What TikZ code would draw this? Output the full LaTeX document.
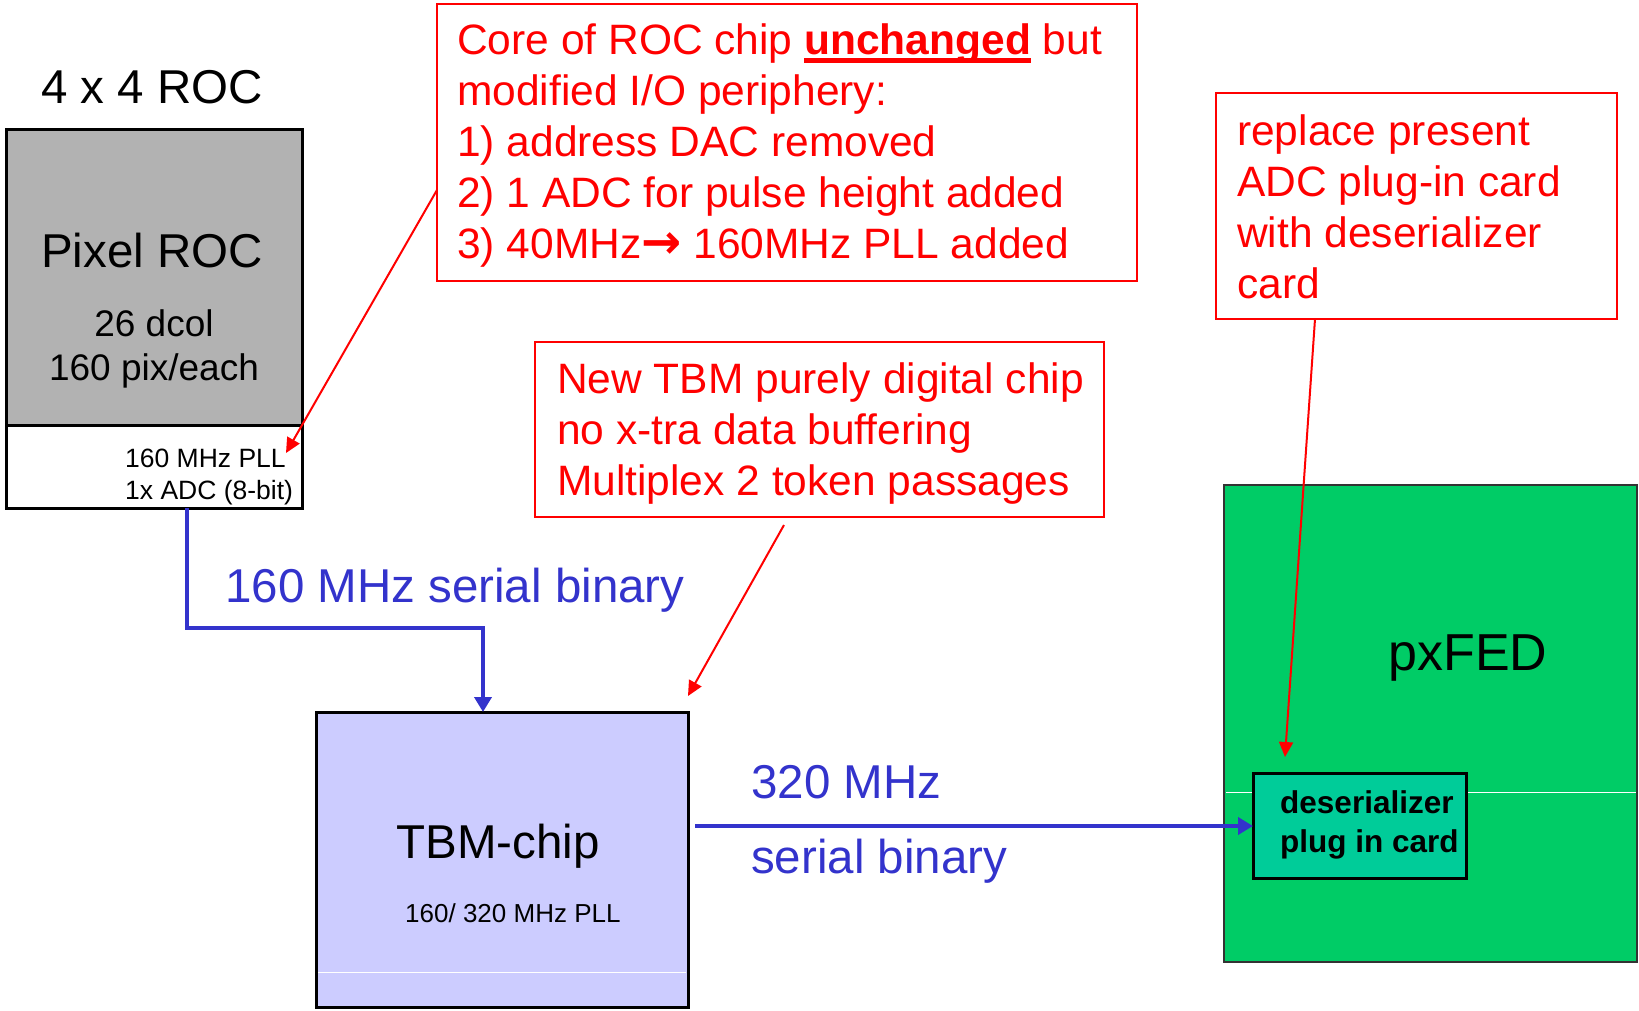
\documentclass[tikz,border=0pt]{standalone}
\usepackage{fontspec}
\setmainfont{Liberation Sans}
\newfontfamily\arrowfont{DejaVu Sans}
\usetikzlibrary{arrows.meta}
\definecolor{rocgray}{HTML}{B2B2B2}
\definecolor{tbmfill}{HTML}{CCCCFF}
\definecolor{fedgreen}{HTML}{00CC66}
\definecolor{desfill}{HTML}{00CC99}
\definecolor{linkblue}{HTML}{3333CC}
\newcommand\thickul[1]{\setbox0\hbox{#1}\rlap{\rule[-8.7pt]{\wd0}{4.4pt}}\box0\relax}
\begin{document}
\begin{tikzpicture}[x=1pt,y=-1pt,
  blk/.style={draw=black, line width=3pt, inner sep=0pt, outer sep=0pt},
  notebox/.style={draw=red, line width=2.5pt, inner sep=0pt, outer sep=0pt},
  rtxt/.style={inner sep=0pt, anchor=base west, text=red, font=\fontsize{42.5}{51}\selectfont},
  btxt/.style={inner sep=0pt, anchor=base west, text=linkblue, font=\fontsize{47.5}{56}\selectfont},
  ktxt/.style={inner sep=0pt, text=black},
  bconn/.style={draw=linkblue, line width=4.5pt, -{Triangle[length=15pt,width=17pt]}},
  rconn/.style={draw=red, line width=2pt, -{Triangle[length=15pt,width=14pt]}},
  whiteline/.style={draw=white, line width=1pt}
]
\useasboundingbox (0,0) rectangle (1639,1010);

% ROC
\node[ktxt, anchor=base, font=\fontsize{47.5}{55}\selectfont] (roctitle) at (152,103) {4 x 4 ROC};
\node[blk, fill=rocgray, minimum width=296, minimum height=296] (rocTop) at (154,277) {};
\node[blk, fill=white, minimum width=296, minimum height=83] (rocBot) at (154,466.5) {};
\node[ktxt, anchor=base, font=\fontsize{47.5}{55}\selectfont] (rocname) at (152,267) {Pixel ROC};
\node[ktxt, anchor=base, font=\fontsize{37}{44}\selectfont] (rocl1) at (154,336) {26 dcol};
\node[ktxt, anchor=base, font=\fontsize{37}{44}\selectfont] (rocl2) at (154,380) {160 pix/each};
\node[ktxt, anchor=base west, font=\fontsize{26.5}{30}\selectfont] (rocs1) at (125,467) {160 MHz PLL};
\node[ktxt, anchor=base west, font=\fontsize{26.5}{30}\selectfont] (rocs2) at (125,499) {1x ADC (8-bit)};

% TBM
\node[blk, fill=tbmfill, minimum width=372, minimum height=295] (tbm) at (502,859.5) {};
\draw[whiteline] (318,972) -- (686,972);
\node[ktxt, anchor=base, font=\fontsize{47.5}{56}\selectfont] (tbmname) at (498,858) {TBM-chip};
\node[ktxt, anchor=base west, font=\fontsize{26}{31}\selectfont] (tbmpll) at (405,922) {160/ 320 MHz PLL};

% pxFED
\node[draw=black!80, line width=2pt, fill=fedgreen, minimum width=413, minimum height=477, inner sep=0pt] (fed) at (1430.5,723.5) {};
\draw[whiteline] (1226,792) -- (1636,792);
\node[ktxt, anchor=base, font=\fontsize{52}{62}\selectfont] (fedname) at (1468,670) {pxFED};
\node[blk, fill=desfill, minimum width=213, minimum height=105] (des) at (1359.5,825.5) {};
\node[ktxt, anchor=base west, font=\fontsize{31.5}{38}\selectfont\bfseries] (des1) at (1280,813) {deserializer};
\node[ktxt, anchor=base west, font=\fontsize{31.5}{38}\selectfont\bfseries] (des2) at (1280,852) {plug in card};

% Note boxes
\node[notebox, minimum width=700, minimum height=277] (note1) at (787,142.5) {};
\node[rtxt] (n1a) at (457,54) {Core of ROC chip \thickul{\textbf{unchanged}} but};
\node[rtxt] (n1b) at (457,105) {modified I/O periphery:};
\node[rtxt] (n1c) at (457,156) {1) address DAC removed};
\node[rtxt] (n1d) at (457,207) {2) 1 ADC for pulse height added};
\node[rtxt] (n1e) at (457,258) {3) 40MHz{\arrowfont\bfseries\fontsize{48}{51}\selectfont →} 160MHz PLL added};

\node[notebox, minimum width=569, minimum height=175] (note2) at (819.5,429.5) {};
\node[rtxt] (n2a) at (557,393) {New TBM purely digital chip};
\node[rtxt] (n2b) at (557,444) {no x-tra data buffering};
\node[rtxt] (n2c) at (557,495) {Multiplex 2 token passages};

\node[notebox, minimum width=401, minimum height=226] (note3) at (1416.5,206) {};
\node[rtxt] (n3a) at (1237,145) {replace present};
\node[rtxt] (n3b) at (1237,196) {ADC plug-in card};
\node[rtxt] (n3c) at (1237,247) {with deserializer};
\node[rtxt] (n3d) at (1237,298) {card};

% Blue links
\coordinate (k1) at (187,628);
\coordinate (k2) at (483,628);
\draw[bconn] (rocBot.south -| k1) -- (k1) -- (k2) -- (tbm.north -| k2);
\node[btxt] (l1) at (225,602) {160 MHz serial binary};

\coordinate (b2s) at (695,826);
\draw[bconn] (b2s) -- (des.west |- b2s);
\node[btxt] (l2a) at (751,798) {320 MHz};
\node[btxt] (l2b) at (751,873) {serial binary};

% Red pointers
\coordinate (r1s) at (437,190);
\coordinate (r1e) at (286,453);
\draw[rconn] (r1s) -- (r1e);
\coordinate (r2s) at (784,525);
\coordinate (r2e) at (688,696);
\draw[rconn] (r2s) -- (r2e);
\coordinate (r3s) at (1315,319);
\coordinate (r3e) at (1285,757);
\draw[rconn] (r3s) -- (r3e);
\end{tikzpicture}
\end{document}
